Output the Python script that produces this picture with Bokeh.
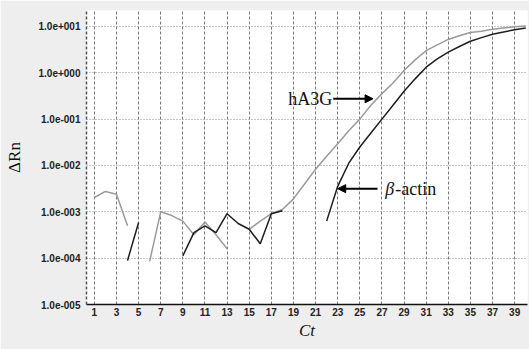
import numpy as np
from bokeh.plotting import figure
from bokeh.models import (ColumnDataSource, FixedTicker, CustomJSTickFormatter,
                          Arrow, NormalHead, Label, Range1d)
from bokeh.embed import file_html
from bokeh.resources import INLINE

nan = float("nan")

# Cycle numbers (Ct) and fluorescence values (ΔRn)
cycles = list(range(1, 41))
ha3g = [2.04e-3, 2.75e-3, 2.40e-3, 5.0e-4, nan, 8.5e-5, 1.0e-3, 8.3e-4, 6.3e-4, 3.2e-4,
        6.0e-4, 3.2e-4, 1.6e-4, nan, 4.2e-4, 6.3e-4, 9.1e-4, 1.12e-3, 1.9e-3, 3.98e-3,
        8.3e-3, 1.58e-2, 2.95e-2, 5.6e-2, 0.1, 0.2, 0.355, 0.60, 1.12, 1.9,
        3.0, 4.0, 5.25, 6.3, 7.4, 7.9, 8.7, 9.3, 9.8, 10.2]
beta_actin = [nan, nan, nan, 8.9e-5, 5.9e-4, nan, nan, nan, 1.12e-4, 3.55e-4,
              5.0e-4, 3.55e-4, 9.1e-4, 5.6e-4, 4.2e-4, 2.04e-4, 9.1e-4, 1.05e-3, nan, nan,
              nan, 6.3e-4, 3.55e-3, 1.12e-2, 2.5e-2, 5.0e-2, 0.1, 0.2, 0.4, 0.74,
              1.32, 2.0, 2.8, 3.7, 4.8, 5.75, 6.8, 7.6, 8.5, 9.3]

x_ticks = list(range(1, 40, 2))
y_ticks = [1e-5, 1e-4, 1e-3, 1e-2, 1e-1, 1e0, 1e1]

W, H = 529, 349
p = figure(width=W, height=H, y_axis_type="log",
           x_range=Range1d(0.29, 40.16), y_range=Range1d(1e-5, 22.1),
           output_backend="svg", toolbar_location=None,
           min_border_left=86, min_border_right=2, min_border_top=10, min_border_bottom=45)

p.background_fill_color = "white"
p.border_fill_color = "#eeeeee"
p.outline_line_color = None

src = ColumnDataSource(dict(x=cycles, a=np.array(ha3g), b=np.array(beta_actin)))
p.line("x", "a", source=src, line_color="#9a9a9a", line_width=1.5)
p.line("x", "b", source=src, line_color="#1e1e1e", line_width=1.5)

# axes
p.xaxis.ticker = FixedTicker(ticks=x_ticks)
p.yaxis.ticker = FixedTicker(ticks=y_ticks)
p.yaxis.formatter = CustomJSTickFormatter(code="""
const e = Math.round(Math.log10(tick));
const s = e < 0 ? '-' : '+';
return '1.0e' + s + String(Math.abs(e)).padStart(3, '0');
""")
for ax in (p.xaxis[0], p.yaxis[0]):
    ax.major_tick_out = 0
    ax.major_tick_in = 0
    ax.minor_tick_out = 0
    ax.minor_tick_in = 0
    ax.major_label_text_font = "Liberation Sans"
    ax.major_label_text_font_size = "10px"
    ax.major_label_text_font_style = "bold"
    ax.major_label_text_color = "#222222"
    ax.axis_label_text_font = "Liberation Serif"
    ax.axis_label_text_font_size = "17px"
    ax.axis_label_text_color = "#111111"

p.xaxis.axis_label = "Ct"
p.xaxis.axis_label_text_font_style = "italic"
p.xaxis.major_label_standoff = 3
p.xaxis.axis_label_standoff = 2
p.xaxis.axis_line_color = "#111111"
p.xaxis.axis_line_width = 1.5

p.yaxis.axis_label = "ΔRn"
p.yaxis.axis_label_text_font_style = "normal"
p.yaxis.major_label_standoff = 6
p.yaxis.axis_label_standoff = 12
p.yaxis.axis_line_color = "#555555"
p.yaxis.axis_line_dash = "3 2"
p.yaxis.axis_line_width = 1.5

# grids
p.xgrid.ticker = FixedTicker(ticks=x_ticks)
p.xgrid.grid_line_color = "#7a7a7a"
p.xgrid.grid_line_dash = "3 2"
p.xgrid.grid_line_width = 1
p.ygrid.ticker = FixedTicker(ticks=y_ticks)
p.ygrid.grid_line_color = "#8a8a8a"
p.ygrid.grid_line_dash = "1 2"
p.ygrid.grid_line_width = 1
p.ygrid.minor_grid_line_color = None

# annotations
p.add_layout(Arrow(end=NormalHead(size=8, fill_color="black", line_color="black"),
                   x_start=22.6, y_start=0.275, x_end=26.2, y_end=0.275,
                   line_color="black", line_width=2))
p.add_layout(Label(x=22.5, y=0.275, text="hA3G", text_align="right", text_baseline="middle",
                   text_font="Liberation Serif", text_font_size="18px", text_color="#111111"))

p.add_layout(Arrow(end=NormalHead(size=8, fill_color="black", line_color="black"),
                   x_start=26.6, y_start=3.16e-3, x_end=23.0, y_end=3.16e-3,
                   line_color="black", line_width=2))
p.add_layout(Label(x=27.3, y=3.16e-3, text="β", text_align="left", text_baseline="middle",
                   text_font="Liberation Serif", text_font_size="18px", text_font_style="italic",
                   text_color="#111111"))
p.add_layout(Label(x=27.3, y=3.16e-3, x_offset=10, text="-actin", text_align="left",
                   text_baseline="middle", text_font="Liberation Serif", text_font_size="18px",
                   text_color="#111111"))

open("out.html", "w").write(file_html(p, INLINE))
